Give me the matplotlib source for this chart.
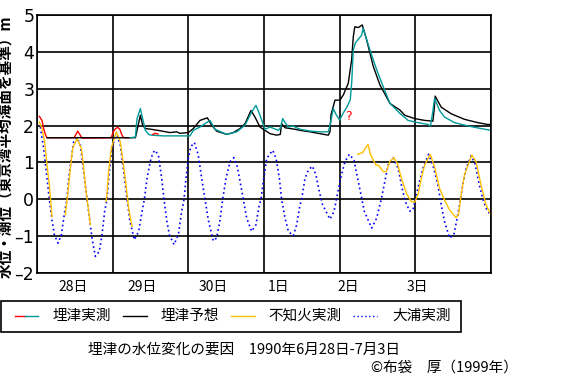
import matplotlib
matplotlib.use("Agg")
import matplotlib.pyplot as plt
from matplotlib.lines import Line2D
from matplotlib.patches import Rectangle

plt.rcParams['font.family'] = ['Noto Sans CJK JP', 'DejaVu Sans']

# --- data (x = days since 6/28 0:00, y = m) ---
day_labels = ['28日', '29日', '30日', '1日', '2日', '3日']
day_label_pos = [0.28, 1.20, 2.13, 3.05, 3.97, 4.89]
y_ticks = [-2, -1, 0, 1, 2, 3, 4, 5]

# 埋津実測 (red part, early)
red_d = [0.031, 0.066, 0.088, 0.110, 0.132, 0.49, 0.515, 0.537, 0.565, 0.595,
         0.98, 1.013, 1.040, 1.066, 1.095, 1.123, 1.145, 1.23]
red_v = [2.25, 2.14, 1.92, 1.76, 1.67, 1.67, 1.76, 1.85, 1.76, 1.66,
         1.67, 1.85, 1.92, 1.95, 1.90, 1.74, 1.67, 1.67]
red2_d = [1.53, 1.56, 1.60]
red2_v = [1.76, 1.79, 1.77]

# 埋津実測 (teal part)
teal_d = [1.23, 1.30, 1.322, 1.366, 1.396, 1.432, 1.476, 1.507, 1.67, 2.022,
          2.066, 2.154, 2.286, 2.352, 2.507, 2.639, 2.749, 2.837, 2.894, 2.947,
          3.013, 3.08, 3.19, 3.22, 3.247, 3.278, 3.322, 3.388, 3.41, 3.476,
          3.608, 3.74, 3.85, 3.872, 3.916, 3.952, 4.0, 4.05, 4.10, 4.14,
          4.16, 4.18, 4.21, 4.25, 4.29, 4.31, 4.40, 4.49, 4.577, 4.665,
          4.797, 4.904, 5.035, 5.167, 5.20, 5.225, 5.255, 5.32, 5.386, 5.518,
          5.693, 5.868, 6.0]
teal_v = [1.67, 1.69, 2.19, 2.46, 2.19, 1.87, 1.76, 1.74, 1.72, 1.72,
          1.87, 1.96, 2.14, 1.90, 1.76, 1.83, 2.01, 2.37, 2.55, 2.28,
          1.90, 1.96, 1.87, 1.95, 2.19, 2.08, 1.96, 1.99, 1.96, 1.90,
          1.85, 1.83, 1.83, 2.01, 2.46, 2.30, 2.15, 2.35, 2.52, 2.70,
          3.20, 4.05, 4.25, 4.35, 4.45, 4.64, 4.05, 3.51, 3.05, 2.60,
          2.33, 2.14, 2.08, 2.03, 1.99, 2.30, 2.74, 2.41, 2.23, 2.08,
          1.99, 1.92, 1.87]

# 埋津予想
blk_d = [0.132, 1.30, 1.322, 1.366, 1.396, 1.432, 1.507, 1.626, 1.758, 1.846,
         1.89, 2.0, 2.066, 2.154, 2.251, 2.308, 2.374, 2.507, 2.595, 2.683,
         2.749, 2.828, 2.881, 2.947, 3.013, 3.08, 3.167, 3.215, 3.233, 3.278,
         3.344, 3.41, 3.476, 3.608, 3.74, 3.85, 3.872, 3.885, 3.938, 4.004,
         4.048, 4.114, 4.158, 4.18, 4.20, 4.246, 4.299, 4.357, 4.445, 4.533,
         4.665, 4.797, 4.86, 4.991, 5.123, 5.232, 5.25, 5.262, 5.342, 5.474,
         5.649, 5.825, 5.956, 6.0]
blk_v = [1.67, 1.67, 1.87, 2.28, 2.01, 1.92, 1.90, 1.86, 1.81, 1.83,
         1.79, 1.81, 1.92, 2.14, 2.21, 2.01, 1.85, 1.76, 1.81, 1.92,
         2.05, 2.41, 2.23, 1.96, 1.87, 1.78, 1.74, 1.76, 2.05, 1.94,
         1.92, 1.90, 1.87, 1.83, 1.78, 1.74, 1.83, 2.29, 2.69, 2.69,
         2.83, 3.15, 3.78, 4.41, 4.68, 4.66, 4.73, 4.32, 3.60, 3.10,
         2.60, 2.42, 2.28, 2.19, 2.14, 2.12, 2.45, 2.80, 2.50, 2.32,
         2.17, 2.08, 2.03, 2.03]

# 不知火実測 (gaps at low water)
yel1_d = [0.031, 0.066, 0.101, 0.132, 0.163, 0.198]
yel1_v = [2.10, 1.92, 1.56, 0.93, 0.39, -0.47]
yel2_d = [0.374, 0.41, 0.441, 0.471, 0.529, 0.586, 0.617, 0.648, 0.683, 0.705]
yel2_v = [-0.42, 0.21, 0.84, 1.38, 1.65, 1.38, 0.84, 0.21, -0.33, -0.69]
yel3_d = [0.916, 0.947, 0.982, 1.048, 1.101, 1.137, 1.176, 1.211, 1.256]
yel3_v = [-0.06, 0.75, 1.38, 1.83, 1.56, 1.02, 0.39, -0.24, -0.74]
yel4_d = [4.238, 4.304, 4.374, 4.41, 4.445, 4.48, 4.515, 4.575, 4.618, 4.662,
          4.715, 4.763, 4.816, 4.882, 4.947, 4.991, 5.035, 5.079, 5.123, 5.197,
          5.254, 5.32, 5.386, 5.452, 5.539, 5.57, 5.605, 5.649, 5.746, 5.803,
          5.868, 5.934, 6.0]
yel4_v = [1.22, 1.27, 1.49, 1.20, 1.06, 0.93, 0.92, 0.75, 0.75, 1.02,
          1.13, 0.97, 0.57, 0.16, -0.06, -0.08, 0.12, 0.57, 0.93, 1.22,
          0.88, 0.30, -0.02, -0.29, -0.50, -0.42, 0.12, 0.66, 1.20, 1.02,
          0.39, -0.15, -0.42]

# 大浦実測
blue_d = [0.044, 0.088, 0.132, 0.163, 0.198, 0.229, 0.278, 0.322, 0.366, 0.396,
          0.419, 0.454, 0.485, 0.529, 0.573, 0.617, 0.661, 0.696, 0.727, 0.771,
          0.824, 0.859, 0.894, 0.925, 0.956, 0.991, 1.048, 1.101, 1.145, 1.19,
          1.225, 1.286, 1.344, 1.388, 1.419, 1.454, 1.50, 1.53, 1.559, 1.604,
          1.648, 1.678, 1.714, 1.749, 1.811, 1.868, 1.912, 1.943, 1.969, 2.0,
          2.031, 2.079, 2.132, 2.176, 2.22, 2.264, 2.33, 2.374, 2.419, 2.454,
          2.498, 2.551, 2.604, 2.648, 2.692, 2.727, 2.771, 2.837, 2.894, 2.938,
          2.96, 2.991, 3.035, 3.115, 3.159, 3.203, 3.233, 3.278, 3.322, 3.388,
          3.432, 3.476, 3.498, 3.542, 3.586, 3.639, 3.687, 3.731, 3.775, 3.872,
          3.925, 3.969, 4.013, 4.07, 4.128, 4.189, 4.238, 4.282, 4.326, 4.423,
          4.489, 4.553, 4.596, 4.64, 4.706, 4.772, 4.825, 4.868, 4.925, 4.969,
          5.0, 5.044, 5.1, 5.175, 5.232, 5.298, 5.342, 5.386, 5.452, 5.509,
          5.553, 5.596, 5.627, 5.671, 5.737, 5.789, 5.846, 5.89, 5.934, 5.978]
blue_v = [1.96, 1.38, 0.57, 0.0, -0.56, -0.96, -1.19, -0.96, -0.33, 0.0,
          0.57, 1.11, 1.56, 1.67, 1.47, 0.75, 0.0, -0.56, -1.05, -1.55,
          -1.41, -0.96, -0.33, 0.0, 0.75, 1.38, 1.81, 1.47, 0.75, 0.0,
          -0.56, -1.10, -0.87, -0.33, 0.0, 0.57, 1.05, 1.25, 1.33, 1.20,
          0.57, 0.0, -0.56, -0.96, -1.23, -0.96, -0.33, 0.0, 0.57, 1.11,
          1.42, 1.54, 1.20, 0.57, 0.0, -0.56, -1.13, -1.05, -0.56, 0.0,
          0.57, 1.02, 1.13, 0.88, 0.39, 0.0, -0.51, -0.87, -0.69, -0.15,
          0.0, 0.48, 1.11, 1.33, 1.11, 0.57, 0.0, -0.51, -0.87, -0.99,
          -0.69, -0.15, 0.0, 0.57, 0.79, 0.90, 0.66, 0.21, -0.15, -0.54,
          -0.33, 0.12, 0.57, 1.02, 1.22, 1.06, 0.57, 0.12, -0.33, -0.78,
          -0.51, 0.03, 0.48, 0.93, 1.13, 0.84, 0.30, -0.06, -0.32, -0.29,
          0.0, 0.39, 0.84, 1.22, 0.93, 0.39, -0.15, -0.60, -1.05, -0.96,
          -0.51, 0.0, 0.39, 0.84, 1.18, 0.97, 0.39, 0.03, -0.24, -0.38]

RED, TEAL, GOLD, BLUE = '#ff0000', '#009999', '#ffc000', '#0000ff'
DOTS = (0, (1, 1.8))
LW = 1.0
W, H = 566, 380


def fx(x):
    return x / W


def fy(y):
    return 1 - y / H


fig = plt.figure(figsize=(W / 100, H / 100), dpi=100)
ax = fig.add_axes([fx(37), fy(273), (491 - 37) / W, (273 - 15) / H])

# tide curves
ax.plot(blue_d, blue_v, color=BLUE, lw=1.2, ls=DOTS)
for d, v in [(yel1_d, yel1_v), (yel2_d, yel2_v), (yel3_d, yel3_v), (yel4_d, yel4_v)]:
    ax.plot(d, v, color=GOLD, lw=LW)
ax.plot(red_d, red_v, color=RED, lw=LW)
ax.plot(blk_d, blk_v, color='black', lw=LW)
ax.plot(teal_d, teal_v, color=TEAL, lw=LW)
ax.plot(red2_d, red2_v, color=RED, lw=LW)
ax.text(4.11, 2.25, '?', color=RED, fontsize=9, ha='center', va='center',
        family='DejaVu Sans')

ax.set_xlim(0, 6)
ax.set_ylim(-2, 5)
ax.set_xticks(range(7))
ax.set_xticklabels([])
ax.set_xticks(day_label_pos, minor=True)
ax.set_xticklabels(day_labels, minor=True, ha='left', fontsize=10)
ax.set_yticks(y_ticks)
ax.set_yticklabels([str(v).replace('-', '\u2013') for v in y_ticks],
                   family=['Liberation Sans Narrow', 'DejaVu Sans'], fontsize=12.5)
ax.tick_params(axis='both', which='both', length=0)
ax.tick_params(axis='x', which='minor', pad=5)
ax.tick_params(axis='y', pad=2)
ax.grid(True, which='major', color='black', lw=1.2)
for s in ax.spines.values():
    s.set_linewidth(1.2)

fig.text(fx(6.5), fy(147), '水位・潮位（東京湾平均海面を基準）m', rotation=90,
         ha='center', va='center', fontsize=10.5, fontweight='bold')

# legend box
fig.add_artist(Rectangle((fx(1), fy(332)), (461 - 1) / W, (332 - 301) / H,
                         transform=fig.transFigure, fill=False, lw=1.2,
                         edgecolor='black'))
ly = fy(316)
legend_items = [
    ([(15, 25, RED, '-'), (25, 38, TEAL, '-')], 53, '埋津実測'),
    ([(123, 147, 'black', '-')], 161, '埋津予想'),
    ([(231, 255, GOLD, '-')], 268, '不知火実測'),
    ([(353, 377, BLUE, DOTS)], 392, '大浦実測'),
]
for segs, tx, label in legend_items:
    for x0, x1, c, ls in segs:
        fig.add_artist(Line2D([fx(x0), fx(x1)], [ly, ly], color=c, lw=LW,
                              ls=ls, transform=fig.transFigure))
    fig.text(fx(tx), ly, label, ha='left', va='center', fontsize=10.5)

fig.text(fx(243.5), fy(349.5), '埋津の水位変化の要因　1990年6月28日-7月3日',
         ha='center', va='center', fontsize=10.5)
fig.text(fx(518), fy(367.5), '©布袋　厚（1999年）', ha='right', va='center',
         fontsize=10.5)

fig.savefig('out.png', dpi=100)
